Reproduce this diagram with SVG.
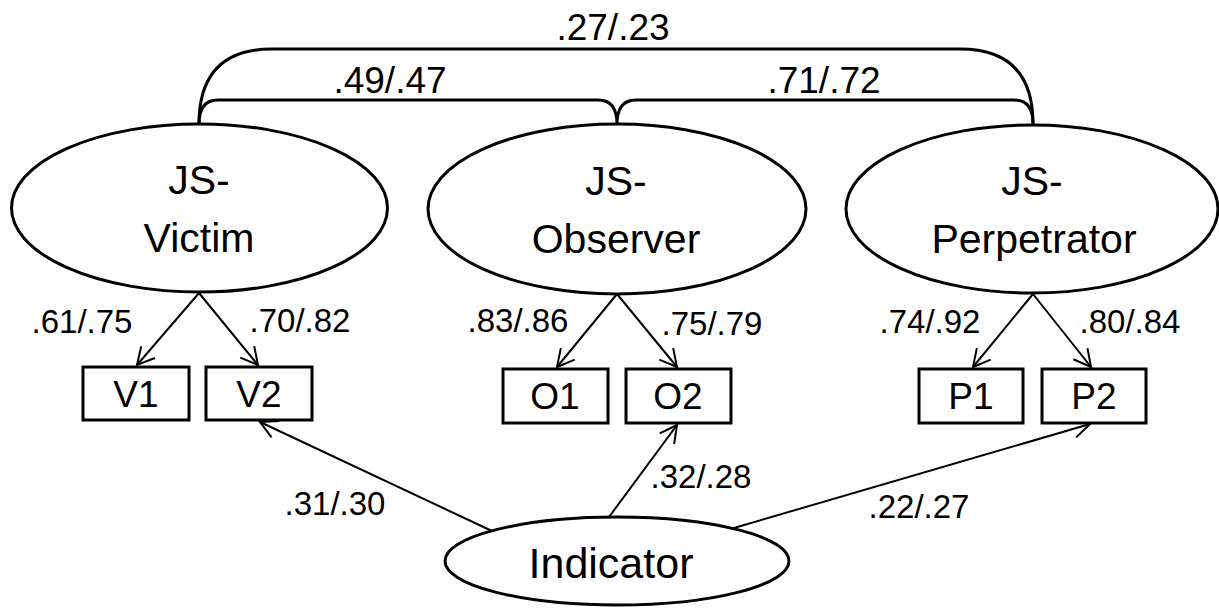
<svg xmlns="http://www.w3.org/2000/svg" width="1219" height="608" viewBox="0 0 1219 608">
<style>
text{font-family:"Liberation Sans",Arial,sans-serif;fill:#000;text-anchor:middle}
.lat{fill:#fff;stroke:#000;stroke-width:3}
.box{fill:#fff;stroke:#000;stroke-width:3}
.nl{font-size:41px}
.bl{font-size:37px}
.el{font-size:33px}
.tl{font-size:37px}
.con{fill:none;stroke:#000;stroke-width:2}
.br{fill:none;stroke:#000;stroke-width:3}
</style>
<defs>
<marker id="ah" markerUnits="userSpaceOnUse" markerWidth="24" markerHeight="24" viewBox="-20 -12 24 24" refX="0" refY="0" orient="auto">
<path d="M-17,-9 L0,0 L-17,9" fill="none" stroke="#000" stroke-width="2"/>
</marker>
</defs>
<g id="connectors">
<path class="br" d="M199,124 Q199,49 272,49 H960 Q1033,49 1033,124"/>
<path class="br" d="M199,124 Q199,100 218,100 H598 Q617,100 617,124 Q617,100 636,100 H1014 Q1033,100 1033,124"/>
<line class="con" x1="199" y1="293" x2="137" y2="365" marker-end="url(#ah)"/>
<line class="con" x1="199" y1="293" x2="258" y2="365" marker-end="url(#ah)"/>
<line class="con" x1="617" y1="294" x2="557" y2="367" marker-end="url(#ah)"/>
<line class="con" x1="617" y1="294" x2="677" y2="367" marker-end="url(#ah)"/>
<line class="con" x1="1033" y1="294" x2="973" y2="367" marker-end="url(#ah)"/>
<line class="con" x1="1033" y1="294" x2="1091" y2="367" marker-end="url(#ah)"/>
<line class="con" x1="492" y1="531" x2="260" y2="422" marker-end="url(#ah)"/>
<line class="con" x1="609" y1="517" x2="677" y2="425" marker-end="url(#ah)"/>
<line class="con" x1="727" y1="530" x2="1090" y2="424" marker-end="url(#ah)"/>
<text class="tl" x="613" y="40">.27/.23</text>
<text class="tl" x="390" y="93">.49/.47</text>
<text class="tl" x="824" y="93">.71/.72</text>
<text class="el" x="82" y="333">.61/.75</text>
<text class="el" x="300" y="332">.70/.82</text>
<text class="el" x="518" y="332">.83/.86</text>
<text class="el" x="712" y="335">.75/.79</text>
<text class="el" x="930" y="333">.74/.92</text>
<text class="el" x="1130" y="333">.80/.84</text>
<text class="el" x="335" y="515">.31/.30</text>
<text class="el" x="701" y="488">.32/.28</text>
<text class="el" x="919" y="518">.22/.27</text>
</g>
<g id="victim">
<ellipse class="lat" cx="199.5" cy="208" rx="188" ry="84"/>
<text class="nl" x="199" y="194">JS-</text>
<text class="nl" x="199" y="252">Victim</text>
</g>
<g id="observer">
<ellipse class="lat" cx="617" cy="209" rx="189" ry="85"/>
<text class="nl" x="616" y="195">JS-</text>
<text class="nl" x="616" y="253">Observer</text>
</g>
<g id="perpetrator">
<ellipse class="lat" cx="1032" cy="209" rx="186" ry="84"/>
<text class="nl" x="1032" y="195">JS-</text>
<text class="nl" x="1034" y="253">Perpetrator</text>
</g>
<g id="V1"><rect class="box" x="83" y="367" width="106" height="53"/><text class="bl" x="136" y="407">V1</text></g>
<g id="V2"><rect class="box" x="206" y="367" width="106" height="53"/><text class="bl" x="259" y="407">V2</text></g>
<g id="O1"><rect class="box" x="503" y="369" width="105" height="54"/><text class="bl" x="555" y="409">O1</text></g>
<g id="O2"><rect class="box" x="626" y="369" width="105" height="54"/><text class="bl" x="678" y="409">O2</text></g>
<g id="P1"><rect class="box" x="919" y="369" width="104" height="54"/><text class="bl" x="971" y="409">P1</text></g>
<g id="P2"><rect class="box" x="1042" y="369" width="104" height="54"/><text class="bl" x="1094" y="409">P2</text></g>
<g id="indicator">
<ellipse class="lat" cx="617" cy="561" rx="172" ry="44"/>
<text style="font-size:43px" x="611" y="578">Indicator</text>
</g>
</svg>
